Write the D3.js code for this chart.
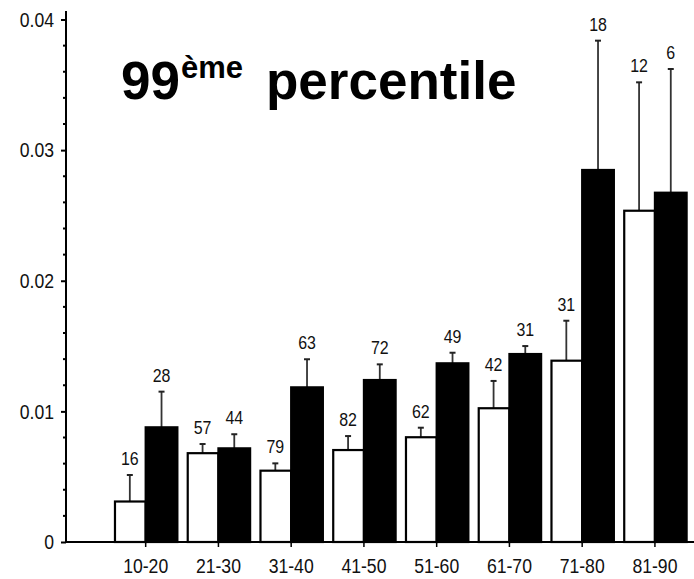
<!DOCTYPE html>
<html>
<head>
<meta charset="utf-8">
<script src="https://cdn.jsdelivr.net/npm/d3@7"></script>
<style>
  html, body { margin: 0; padding: 0; background: #fff; }
  svg { display: block; }
</style>
</head>
<body>
<svg id="chart" width="694" height="579"></svg>
<script>
// ---- data ----
const categories = ["10-20", "21-30", "31-40", "41-50", "51-60", "61-70", "71-80", "81-90"];
const whiteValues = [0.0031, 0.0068, 0.00546, 0.00704, 0.00802, 0.01024, 0.01388, 0.02536];
const whiteErrTop = [0.00513, 0.0075, 0.00602, 0.00811, 0.00875, 0.01233, 0.01694, 0.03519];
const blackValues = [0.00878, 0.00717, 0.01184, 0.0124, 0.01368, 0.01439, 0.02848, 0.02674];
const blackErrTop = [0.01151, 0.00825, 0.01399, 0.0136, 0.01449, 0.015, 0.03838, 0.03621];
const whiteCounts = [16, 57, 79, 82, 62, 42, 31, 12];
const blackCounts = [28, 44, 63, 72, 49, 31, 18, 6];
const yTickValues = [0, 0.01, 0.02, 0.03, 0.04];
const yTickLabels = ["0", "0.01", "0.02", "0.03", "0.04"];

const font = "'Liberation Sans', Arial, sans-serif";
const SX = 0.84; // horizontal squeeze to mimic the narrow face

const svg = d3.select("#chart");

const axisX = 66, baseY = 542, topY = 19.5;
const y = d3.scaleLinear().domain([0, 0.04]).range([baseY, topY]);
const x = d3.scaleBand().domain(categories).range([109.3, 691.3]).padding(0);
const xSub = d3.scaleBand().domain(["w", "b"]).range([0, x.bandwidth()]).paddingInner(0).paddingOuter(0.1475);

const series = [
  { key: "w", values: whiteValues, err: whiteErrTop, counts: whiteCounts, fill: "#fff" },
  { key: "b", values: blackValues, err: blackErrTop, counts: blackCounts, fill: "#000" }
];

const rows = [];
series.forEach(s => categories.forEach((c, i) => rows.push({ s, c, v: s.values[i], e: s.err[i], n: s.counts[i] })));

// error bars + counts
const eg = svg.append("g");
rows.forEach(d => {
  const cx = x(d.c) + xSub(d.s.key) + xSub.bandwidth() / 2;
  eg.append("line").attr("x1", cx).attr("x2", cx).attr("y1", y(d.v)).attr("y2", y(d.e))
    .attr("stroke", "#333").attr("stroke-width", 1.8);
  eg.append("line").attr("x1", cx - 3).attr("x2", cx + 3).attr("y1", y(d.e)).attr("y2", y(d.e))
    .attr("stroke", "#222").attr("stroke-width", 2);
  eg.append("text").attr("transform", `translate(${cx},${y(d.e) - 10}) scale(${SX},1)`)
    .attr("text-anchor", "middle")
    .attr("font-family", font).attr("font-size", 19).attr("fill", "#111").text(d.n);
});

// bars
const bg = svg.append("g");
series.forEach(s => {
  bg.selectAll(null).data(categories.map((c, i) => ({ c, v: s.values[i] }))).enter()
    .append("rect")
    .attr("x", d => x(d.c) + xSub(s.key) + (s.key === "w" ? 1 : 0))
    .attr("y", d => y(d.v))
    .attr("width", xSub.bandwidth() - (s.key === "w" ? 1 : 0))
    .attr("height", d => baseY - y(d.v))
    .attr("fill", s.fill)
    .attr("stroke", "#000")
    .attr("stroke-width", 2.2);
});

// y axis
const yAxis = d3.axisLeft(y).tickValues(yTickValues).tickFormat((d, i) => yTickLabels[i]).tickSize(5).tickSizeOuter(0);
const ya = svg.append("g").attr("transform", `translate(${axisX},0)`).call(yAxis);
ya.select(".domain").remove();
ya.selectAll("line").attr("stroke", "#000").attr("stroke-width", 2);
ya.selectAll("text").attr("font-family", font).attr("font-size", 21).attr("fill", "#111")
  .attr("x", null).attr("transform", `translate(-12,0) scale(${SX},1)`);
// minor ticks
const minor = d3.range(0, 0.0401, 0.002).filter(v => Math.abs(v * 100 - Math.round(v * 100)) > 1e-6);
svg.append("g").selectAll("line").data(minor).enter().append("line")
  .attr("x1", axisX - 3).attr("x2", axisX).attr("y1", d => y(d)).attr("y2", d => y(d))
  .attr("stroke", "#000").attr("stroke-width", 2);
svg.append("line").attr("x1", axisX).attr("x2", axisX).attr("y1", 11).attr("y2", baseY + 1)
  .attr("stroke", "#000").attr("stroke-width", 2);

// x axis
svg.append("line").attr("x1", axisX).attr("x2", 694).attr("y1", baseY).attr("y2", baseY)
  .attr("stroke", "#000").attr("stroke-width", 2);
const xAxis = d3.axisBottom(x).tickSize(5).tickSizeOuter(0);
const xa = svg.append("g").attr("transform", `translate(0,${baseY})`).call(xAxis);
xa.select(".domain").remove();
xa.selectAll("line").attr("stroke", "#000").attr("stroke-width", 1.5);
xa.selectAll("text").attr("font-family", font).attr("font-size", 21).attr("fill", "#111")
  .attr("y", null).attr("dy", null).attr("transform", `translate(0,31) scale(${SX},1)`);

// title
const t = svg.append("text").attr("x", 121).attr("y", 99)
  .attr("font-family", font).attr("font-weight", "bold").attr("fill", "#000");
t.append("tspan").attr("font-size", 53).text("99");
t.append("tspan").attr("font-size", 31).attr("dy", -21).attr("dx", 1).text("ème");
t.append("tspan").attr("font-size", 53).attr("dy", 21).attr("dx", 23).text("percentile");
</script>
</body>
</html>
